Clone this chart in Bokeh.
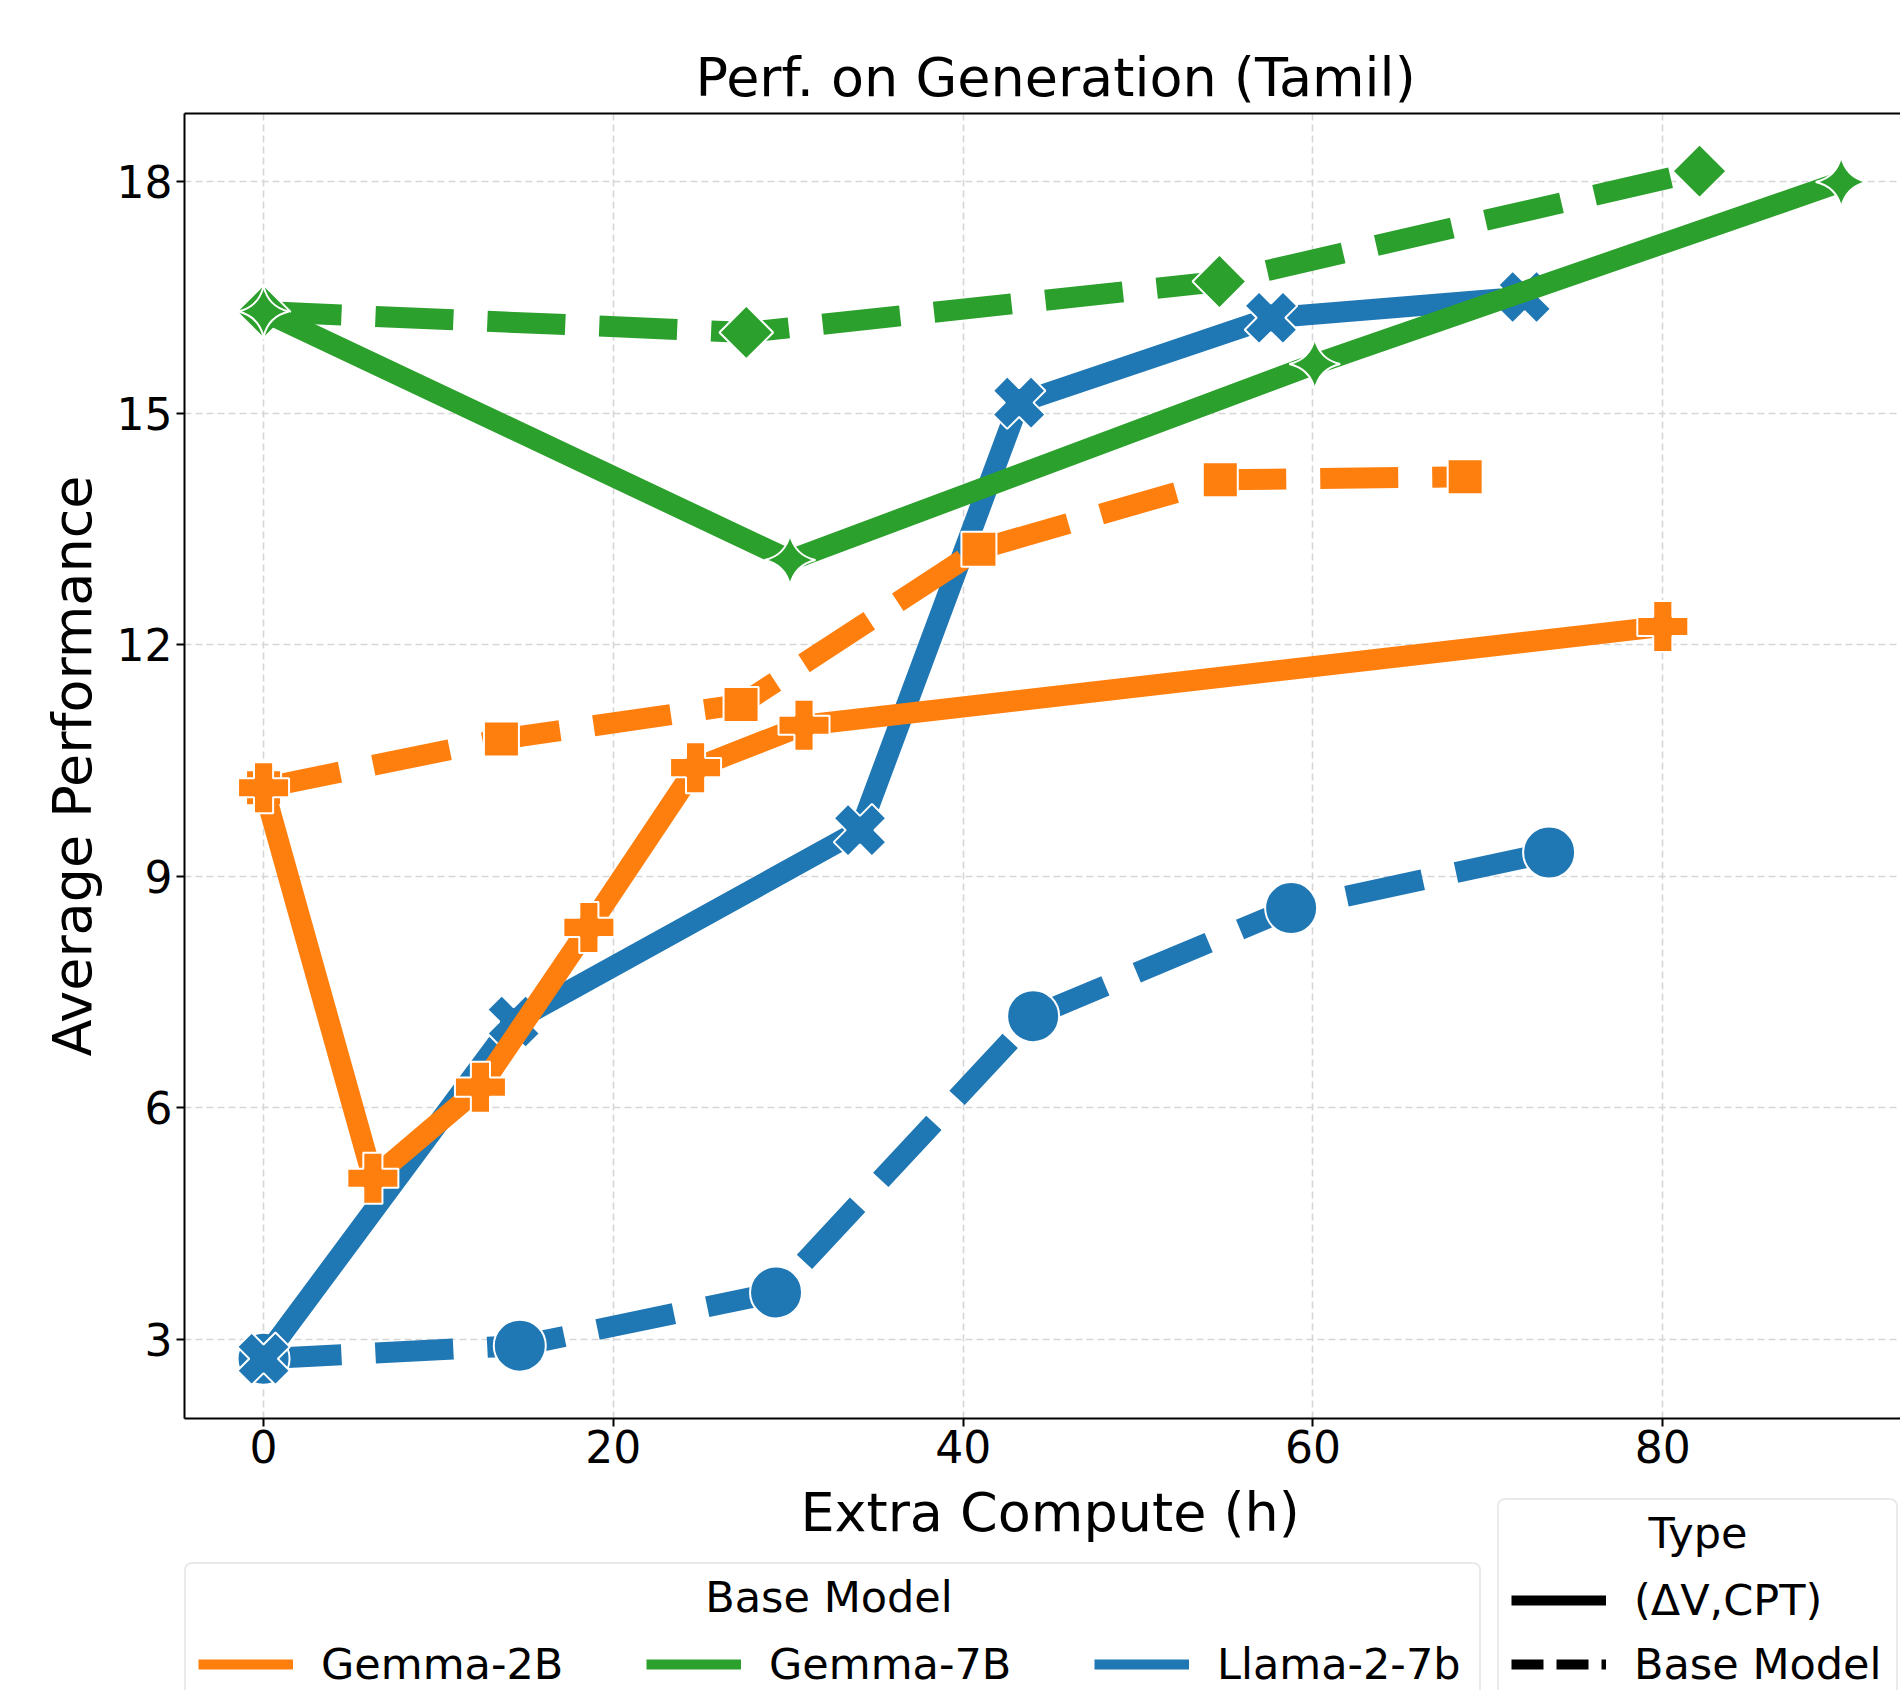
import math
from bokeh.plotting import figure
from bokeh.layouts import column
from bokeh.models import Range1d, LinearAxis, FixedTicker, Legend, LegendItem, Label
from bokeh.embed import file_html
from bokeh.resources import INLINE

FONT = "DejaVu Sans"
ORANGE = "#ff7f0e"
GREEN = "#2ca02c"
BLUE = "#1f77b4"
NAN = float("nan")

# ---- data (Extra Compute in hours, Average Performance) ----
g2b_cpt_x = [0, 6.25, 12.4, 18.6, 24.7, 30.9, 80.0]
g2b_cpt_y = [10.15, 5.09, 6.27, 8.34, 10.41, 10.96, 12.24]
g2b_base_x = [0, 13.6, 27.3, 40.9, 54.7, 68.7]
g2b_base_y = [10.15, 10.78, 11.23, 13.24, 14.14, 14.18]

g7b_cpt_x = [0, 30.1, 60.1, 90.2]
g7b_cpt_y = [16.32, 13.10, 15.64, 18.0]
g7b_base_x = [0, 27.6, 54.65, 82.1]
g7b_base_y = [16.32, 16.05, 16.71, 18.14]

llama_cpt_x = [0, 14.3, 34.1, 43.2, 57.6, 72.1]
llama_cpt_y = [2.75, 7.12, 9.60, 15.14, 16.24, 16.51]
llama_base_x = [0, 14.65, 29.3, 44.0, 58.75, 73.5]
llama_base_y = [2.75, 2.92, 3.61, 7.19, 8.59, 9.31]

x_ticks = [0, 20, 40, 60, 80]
y_ticks = [3, 6, 9, 12, 15, 18]

base_models = ["Gemma-2B", "Gemma-7B", "Llama-2-7b"]
types = ["(\u0394V,CPT)", "Base Model"]

W = 1900
P_H = 1481
Q_H = 209
FRAME_L = 184

p = figure(width=W, height=P_H, output_backend="svg", toolbar_location=None,
           x_range=Range1d(-4.52, 93.59), y_range=Range1d(1.976, 18.887),
           min_border_left=FRAME_L, min_border_right=0, min_border_top=113,
           min_border_bottom=P_H - 1418, title="Perf. on Generation (Tamil)")
p.outline_line_color = None
p.background_fill_color = "white"
p.border_fill_color = "white"

p.title.text_font = FONT
p.title.text_font_size = "54px"
p.title.text_font_style = "normal"
p.title.align = "left"
p.title.offset = 511
p.title.text_color = "black"
p.title.standoff = 9

for ax in (p.xaxis[0], p.yaxis[0]):
    ax.axis_line_width = 2
    ax.axis_line_color = "black"
    ax.major_tick_line_width = 2
    ax.major_tick_line_color = "black"
    ax.major_tick_out = 8
    ax.major_tick_in = 0
    ax.minor_tick_out = 0
    ax.minor_tick_in = 0
    ax.major_label_text_font = FONT
    ax.major_label_text_font_size = "44px"
    ax.major_label_text_color = "black"
    ax.axis_label_text_font = FONT
    ax.axis_label_text_font_size = "54px"
    ax.axis_label_text_font_style = "normal"
    ax.axis_label_text_color = "black"

p.xaxis.ticker = FixedTicker(ticks=x_ticks)
p.yaxis.ticker = FixedTicker(ticks=y_ticks)
p.yaxis.axis_label = "Average Performance"
p.xaxis.major_label_standoff = 3
p.yaxis.major_label_standoff = 4
p.yaxis.axis_label_standoff = 10

top_axis = LinearAxis(ticker=FixedTicker(ticks=[]), axis_line_width=2, axis_line_color="black",
                      major_tick_out=0, major_tick_in=0, minor_tick_out=0, minor_tick_in=0)
p.add_layout(top_axis, "above")

for g in (p.xgrid[0], p.ygrid[0]):
    g.grid_line_color = "#d6d6d6"
    g.grid_line_width = 1.6
    g.grid_line_dash = "7 4"

series = [
    (llama_base_x, llama_base_y, BLUE, "78 34", "circle", 52, 0.0),
    (llama_cpt_x, llama_cpt_y, BLUE, "solid", "plus", 54, math.pi / 4),
    (g2b_base_x, g2b_base_y, ORANGE, "78 34", "square", 35, 0.0),
    (g2b_cpt_x, g2b_cpt_y, ORANGE, "solid", "plus", 51, 0.0),
    (g7b_base_x, g7b_base_y, GREEN, "78 34", "square", 38, math.pi / 4),
    (g7b_cpt_x, g7b_cpt_y, GREEN, "solid", "square_pin", 36, math.pi / 4),
]
for xs, ys, col, dash, mk, sz, ang in series:
    p.line(xs, ys, line_color=col, line_width=21, line_dash=dash,
           line_join="round", line_cap="butt")
    p.scatter(xs, ys, marker=mk, size=sz, angle=ang, fill_color=col,
              line_color="white", line_width=2)

# ---- lower strip: x-axis title and legends (coordinates = page pixels) ----
q = figure(width=W, height=Q_H, output_backend="svg", toolbar_location=None,
           x_range=Range1d(FRAME_L, W), y_range=Range1d(0, Q_H),
           x_axis_type=None, y_axis_type=None,
           min_border_left=FRAME_L, min_border_right=0, min_border_top=0, min_border_bottom=0)
q.outline_line_color = None
q.background_fill_color = "white"
q.border_fill_color = "white"

prox_o = q.line([NAN, NAN], [NAN, NAN], line_color=ORANGE, line_width=10)
prox_g = q.line([NAN, NAN], [NAN, NAN], line_color=GREEN, line_width=10)
prox_b = q.line([NAN, NAN], [NAN, NAN], line_color=BLUE, line_width=10)
prox_s = q.line([NAN, NAN], [NAN, NAN], line_color="black", line_width=10)
prox_d = q.line([NAN, NAN], [NAN, NAN], line_color="black", line_width=10, line_dash="32 13")


def make_legend(items, orientation, loc, spacing, label_w):
    leg = Legend(items=items, orientation=orientation, location=loc, title=" ",
                 title_text_font=FONT, title_text_font_size="43px",
                 title_text_font_style="normal", title_text_color="black",
                 title_standoff=13,
                 label_text_font=FONT, label_text_font_size="43px", label_text_color="black",
                 label_standoff=28, glyph_width=95, glyph_height=50, label_height=50,
                 label_width=label_w, spacing=spacing, padding=12, margin=0,
                 border_line_color="#d6d6d6", border_line_width=2,
                 background_fill_color="white", background_fill_alpha=0.0)
    try:
        leg.border_radius = 8
    except Exception:
        pass
    return leg


leg_base = make_legend([LegendItem(label=base_models[0], renderers=[prox_o]),
                        LegendItem(label=base_models[1], renderers=[prox_g]),
                        LegendItem(label=base_models[2], renderers=[prox_b])],
                       "horizontal", (0, -13), 75, 250)
leg_type = make_legend([LegendItem(label=types[0], renderers=[prox_s]),
                        LegendItem(label=types[1], renderers=[prox_d])],
                       "vertical", (1497 - FRAME_L, -13), 14, 250)
q.add_layout(leg_base)
q.add_layout(leg_type)


def txt(x, y, s, size):
    q.add_layout(Label(x=x, y=y, text=s, text_align="center", text_baseline="alphabetic",
                       text_font=FONT, text_font_size=size, text_color="black"))


txt((184.3 + 1915) / 2, 178, "Extra Compute (h)", "54px")
txt(828.5, 94, "Base Model", "43px")
txt(1697.5, 158, "Type", "43px")

layout = column(p, q, spacing=0)
open("out.html", "w").write(file_html(layout, INLINE))
